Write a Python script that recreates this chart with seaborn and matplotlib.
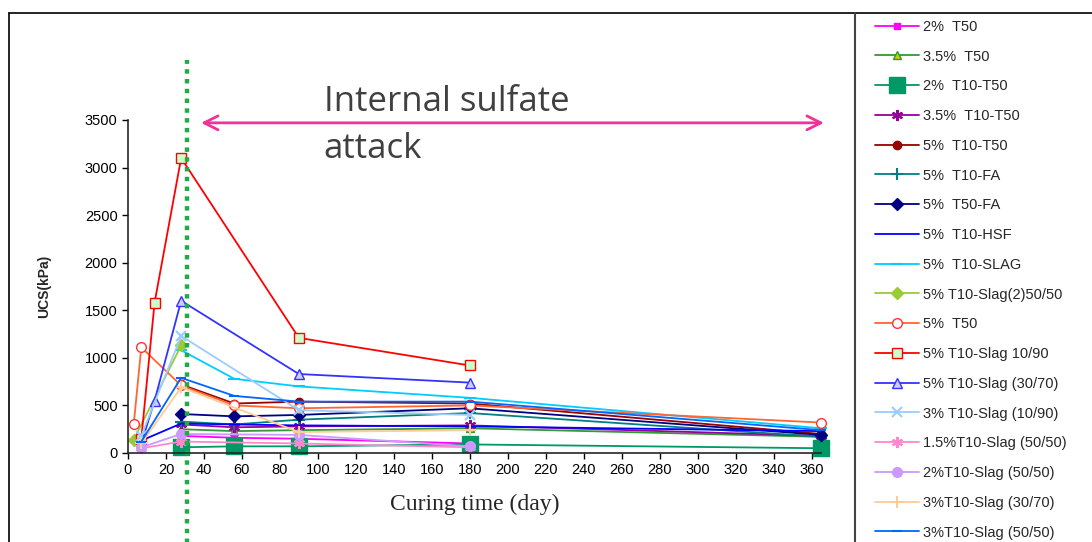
import numpy as np
import pandas as pd
import matplotlib
matplotlib.use("Agg")
import matplotlib.pyplot as plt
from matplotlib.lines import Line2D
import seaborn as sns

nan = np.nan
days = [3, 7, 14, 28, 56, 90, 180, 365]

labels = ["2%  T50", "3.5%  T50", "2%  T10-T50", "3.5%  T10-T50", "5%  T10-T50",
          "5%  T10-FA", "5%  T50-FA", "5%  T10-HSF", "5%  T10-SLAG",
          "5% T10-Slag(2)50/50", "5%  T50", "5% T10-Slag 10/90",
          "5% T10-Slag (30/70)", "3% T10-Slag (10/90)", "1.5%T10-Slag (50/50)",
          "2%T10-Slag (50/50)", "3%T10-Slag (30/70)", "3%T10-Slag (50/50)"]

s01 = [nan, nan, nan, 180, 160, 150, 100, nan]
s02 = [nan, nan, nan, 250, 230, 240, 260, 170]
s03 = [nan, nan, nan, 60, 70, 70, 90, 50]
s04 = [nan, nan, nan, 300, 270, 280, 290, 180]
s05 = [nan, nan, nan, 720, 520, 540, 520, 200]
s06 = [nan, nan, nan, 330, 300, 350, 420, 170]
s07 = [nan, nan, nan, 410, 385, 400, 470, 190]
s08 = [nan, 130, nan, 310, 300, 290, 280, 230]
s09 = [nan, nan, nan, 1080, 780, 700, 580, 260]
s10 = [140, nan, nan, 1130, nan, nan, nan, nan]
s11 = [300, 1110, nan, 710, 500, 470, 500, 320]
s12 = [nan, 150, 1580, 3100, nan, 1210, 920, nan]
s13 = [nan, 100, 550, 1600, nan, 830, 740, nan]
s14 = [nan, 180, nan, 1230, nan, 450, 400, nan]
s15 = [nan, 50, nan, 120, nan, 100, 60, nan]
s16 = [nan, 60, nan, 200, nan, 190, 70, nan]
s17 = [nan, 100, nan, 690, nan, 220, 240, nan]
s18 = [nan, 120, nan, 790, 600, 540, 540, 240]
series = [s01, s02, s03, s04, s05, s06, s07, s08, s09, s10, s11, s12, s13, s14,
          s15, s16, s17, s18]

styles = [
    dict(color="#ff00ff", marker="s", markersize=5, markerfacecolor="#ff00ff", markeredgecolor="#ff00ff"),
    dict(color="#339933", marker="^", markersize=6, markerfacecolor="#cccc00", markeredgecolor="#339933"),
    dict(color="#009966", marker="s", markersize=11, markerfacecolor="#009966", markeredgecolor="#009966"),
    dict(color="#990099", marker=(6, 2, 0), markersize=8, markerfacecolor="#990099", markeredgecolor="#990099"),
    dict(color="#990000", marker="o", markersize=6, markerfacecolor="#990000", markeredgecolor="#990000"),
    dict(color="#008080", marker="+", markersize=9, markerfacecolor="#008080", markeredgecolor="#008080"),
    dict(color="#000080", marker="D", markersize=6, markerfacecolor="#000080", markeredgecolor="#000080"),
    dict(color="#0000ff", marker=None),
    dict(color="#00ccff", marker="_", markersize=9, markerfacecolor="#00ccff", markeredgecolor="#00ccff"),
    dict(color="#99cc33", marker="D", markersize=6, markerfacecolor="#99cc33", markeredgecolor="#99cc33"),
    dict(color="#ff6633", marker="o", markersize=7, markerfacecolor="white", markeredgecolor="#ff3333"),
    dict(color="#ff0000", marker="s", markersize=7, markerfacecolor="#ccffcc", markeredgecolor="#ff0000"),
    dict(color="#3333ff", marker="^", markersize=7, markerfacecolor="#ccccff", markeredgecolor="#3333ff"),
    dict(color="#99ccff", marker="x", markersize=7, markerfacecolor="#99ccff", markeredgecolor="#99ccff"),
    dict(color="#ff88cc", marker=(6, 2, 0), markersize=8, markerfacecolor="#ff88cc", markeredgecolor="#ff88cc"),
    dict(color="#cc99ff", marker="o", markersize=7, markerfacecolor="#cc99ff", markeredgecolor="#cc99ff"),
    dict(color="#ffcc99", marker="+", markersize=9, markerfacecolor="#ffcc99", markeredgecolor="#ffcc99"),
    dict(color="#0066ff", marker="_", markersize=7, markerfacecolor="#0066ff", markeredgecolor="#0066ff"),
]

sns.set_style("ticks")
plt.rcParams["font.family"] = ["Liberation Sans", "DejaVu Sans"]

fig = plt.figure(figsize=(10.92, 5.42), dpi=100)
ax = fig.add_axes([128 / 1092, 1 - 453 / 542, (821 - 128) / 1092, (453 - 120) / 542])

for lab, vals, st in zip(labels, series, styles):
    df = pd.DataFrame({"day": days, "ucs": vals}).dropna()
    kw = dict(st)
    mk = kw.pop("marker")
    if mk is None:
        sns.lineplot(data=df, x="day", y="ucs", ax=ax, label=lab, linewidth=1.3,
                     color=kw["color"], errorbar=None)
    else:
        sns.lineplot(data=df, x="day", y="ucs", ax=ax, label=lab, linewidth=1.3,
                     marker=mk, markeredgewidth=1.5 if mk in ("+", "x", "_") or isinstance(mk, tuple) else 1.0,
                     errorbar=None, clip_on=False, **kw)

ax.set_xlim(0, 365)
ax.set_ylim(0, 3500)
ax.set_xticks(np.arange(0, 361, 20))
ax.set_yticks(np.arange(0, 3501, 500))
ax.tick_params(axis="both", labelsize=10.5, length=4, width=1, direction="out", colors="black")
for sp in ["top", "right"]:
    ax.spines[sp].set_visible(False)
for sp in ["left", "bottom"]:
    ax.spines[sp].set_linewidth(1.2)
ax.set_xlabel("Curing time (day)", fontsize=17, family=["Liberation Serif", "DejaVu Serif"], labelpad=12)
ax.set_ylabel("UCS(kPa)", fontsize=10, fontweight="bold", labelpad=24)

# vertical dotted line and arrow annotation
ax.axvline(31, ymin=-0.27, ymax=1.18, color="#22aa44", linestyle=(0, (1, 1.2)), linewidth=3.2, clip_on=False)
ax.annotate("", xy=(37, 3470), xytext=(368, 3470),
            arrowprops=dict(arrowstyle="<->", color="#ee3399", lw=2, mutation_scale=25),
            annotation_clip=False)
ax.text(103, 3870, "Internal sulfate\nattack", fontsize=25, color="#404040",
        family=["Open Sans", "DejaVu Sans"], va="top", ha="left", linespacing=1.5)

handles, labs = ax.get_legend_handles_labels()
ax.get_legend().remove()
fig.legend(handles, labs, loc="upper left", bbox_to_anchor=(869 / 1092, 1 - 14 / 542),
           frameon=False, fontsize=10.5, labelspacing=1.08, handlelength=3.0, handletextpad=0.3,
           borderaxespad=0)

# outer frame lines
fig.add_artist(Line2D([9 / 1092, 9 / 1092], [0, 1 - 13 / 542], color="black", lw=1.2))
fig.add_artist(Line2D([9 / 1092, 1], [1 - 13 / 542, 1 - 13 / 542], color="black", lw=1.2))
fig.add_artist(Line2D([855 / 1092, 855 / 1092], [0, 1 - 13 / 542], color="#444444", lw=1.5))

fig.savefig("out.png", dpi=100)
